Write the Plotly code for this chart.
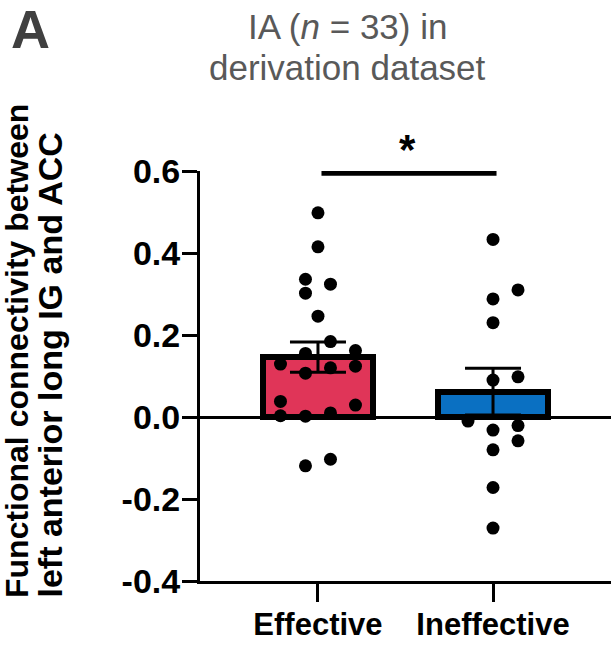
import plotly.graph_objects as go

# ---- data ----
categories = ["Effective", "Ineffective"]
group_means = [0.146, 0.062]
group_sem = [0.037, 0.057]
bar_colors = ["#E03558", "#0A70C2"]

effective_values = [0.498, 0.415, 0.336, 0.324, 0.302, 0.246, 0.184, 0.155, 0.162,
                    0.129, 0.120, 0.124, 0.107, 0.038, 0.029, 0.003, 0.002, 0.010,
                    -0.119, -0.103]
effective_cols = [0, 0, -1, 1, -1, 0, 1, -1, 3, -3, 1, 3, -1, -3, 3, -3, -1, 1, -1, 1]

ineffective_values = [0.433, 0.310, 0.288, 0.230, 0.098, 0.090, -0.010, -0.032,
                      -0.021, -0.058, -0.080, -0.172, -0.271]
ineffective_cols = [0, 2, 0, 0, 2, 0, -2, 0, 2, 2, 0, 0, 0]

y_ticks = [-0.4, -0.2, 0.0, 0.2, 0.4, 0.6]

title_lines = ["IA (<i>n</i> = 33) in", "derivation dataset"]
ytitle_lines = ["Functional connectivity between", "left anterior long IG and ACC"]

# ---- figure ----
FONT = "Liberation Sans, Arial, sans-serif"
step = 0.0714
xpos = [0, 1]

fig = go.Figure()
fig.add_trace(go.Bar(
    x=xpos, y=group_means, width=0.63,
    marker=dict(color=bar_colors, line=dict(color="black", width=6)),
    error_y=dict(type="data", array=group_sem, visible=True, color="black",
                 thickness=3, width=28),
    showlegend=False, hoverinfo="skip",
))

px_all = [xpos[0] + c * step for c in effective_cols] + [xpos[1] + c * step for c in ineffective_cols]
py_all = effective_values + ineffective_values
fig.add_trace(go.Scatter(
    x=px_all, y=py_all, mode="markers",
    marker=dict(color="black", size=13, line=dict(width=0)),
    showlegend=False, cliponaxis=False,
))

# significance bar
fig.add_trace(go.Scatter(
    x=[0.02, 1.02], y=[0.596, 0.596], mode="lines",
    line=dict(color="black", width=6), showlegend=False, cliponaxis=False,
))

fig.update_layout(
    width=611, height=646,
    margin=dict(l=200, r=0, t=171, b=65),
    paper_bgcolor="white", plot_bgcolor="white",
    font=dict(family=FONT, color="black"),
    bargap=0,
    xaxis=dict(
        range=[-0.674, 1.674], tickmode="array", tickvals=xpos,
        ticktext=["<b>%s</b>" % c for c in categories],
        tickfont=dict(size=31, family=FONT, color="black"),
        showline=True, linecolor="black", linewidth=3,
        ticks="outside", ticklen=18, tickwidth=3, tickcolor="black",
        ticklabelstandoff=-4,
        showgrid=False, zeroline=False, fixedrange=True,
    ),
    yaxis=dict(
        range=[-0.4, 0.6], tickmode="array", tickvals=y_ticks,
        ticktext=["<b>%.1f</b>" % v for v in y_ticks],
        tickfont=dict(size=34, family=FONT, color="black"),
        showline=True, linecolor="black", linewidth=3,
        ticks="outside", ticklen=15, tickwidth=3, tickcolor="black",
        ticklabelstandoff=-5,
        showgrid=False, zeroline=True, zerolinecolor="black", zerolinewidth=3,
        fixedrange=True,
    ),
)

ann = []
# asterisk
ann.append(dict(x=0.514, y=(581 - 150) / 410, xref="x", yref="paper", text="<b>*</b>", showarrow=False,
                font=dict(size=42, family=FONT, color="black"), xanchor="center", yanchor="middle"))
# title lines
ann.append(dict(x=(347 - 200) / 411, y=(581 - 27) / 410, xref="paper", yref="paper",
                text=title_lines[0], showarrow=False,
                font=dict(size=35, family=FONT, color="#595959"), xanchor="center", yanchor="middle"))
ann.append(dict(x=(347 - 200) / 411, y=(581 - 67) / 410, xref="paper", yref="paper",
                text=title_lines[1], showarrow=False,
                font=dict(size=35, family=FONT, color="#595959"), xanchor="center", yanchor="middle"))
# panel letter
ann.append(dict(x=(30 - 200) / 411, y=(581 - 29) / 410, xref="paper", yref="paper",
                text="<b>A</b>", showarrow=False,
                font=dict(size=54, family=FONT, color="#404040"), xanchor="center", yanchor="middle"))
# y-axis title lines
ann.append(dict(x=(17 - 200) / 411, y=(581 - 600) / 410, xref="paper", yref="paper",
                text="<b>%s</b>" % ytitle_lines[0], showarrow=False, textangle=-90,
                font=dict(size=32, family=FONT, color="black"), xanchor="center", yanchor="bottom"))
ann.append(dict(x=(49 - 200) / 411, y=(581 - 600) / 410, xref="paper", yref="paper",
                text="<b>%s</b>" % ytitle_lines[1], showarrow=False, textangle=-90,
                font=dict(size=34, family=FONT, color="black"), xanchor="center", yanchor="bottom"))
fig.update_layout(annotations=ann)

fig.write_html("out.html", config={"displayModeBar": False},
               post_script="document.body.style.margin='0';")
